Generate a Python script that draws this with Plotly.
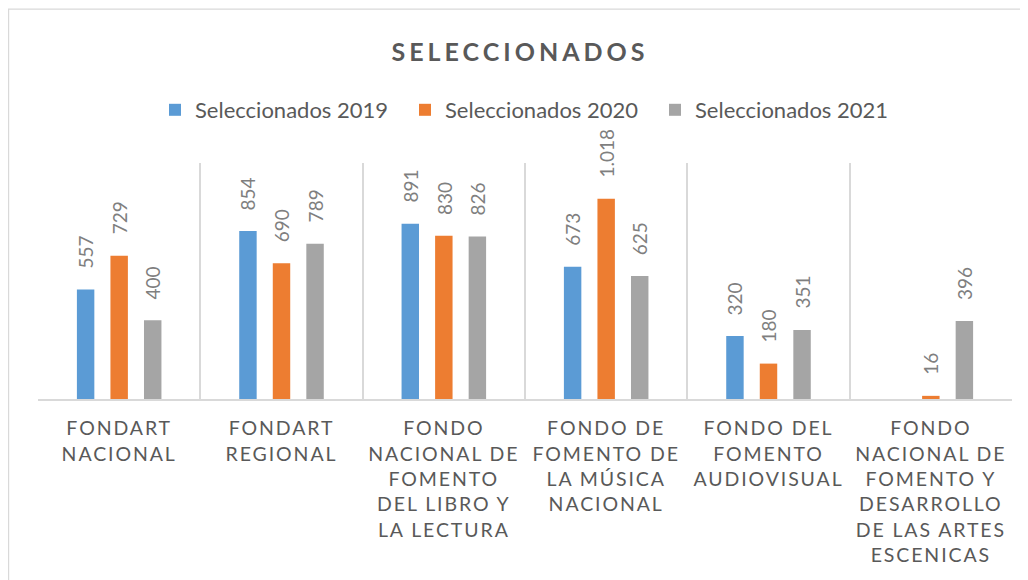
import plotly.graph_objects as go

categories = [
    "FONDART<br>NACIONAL",
    "FONDART<br>REGIONAL",
    "FONDO<br>NACIONAL DE<br>FOMENTO<br>DEL LIBRO Y<br>LA LECTURA",
    "FONDO DE<br>FOMENTO DE<br>LA MÚSICA<br>NACIONAL",
    "FONDO DEL<br>FOMENTO<br>AUDIOVISUAL",
    "FONDO<br>NACIONAL DE<br>FOMENTO Y<br>DESARROLLO<br>DE LAS ARTES<br>ESCENICAS",
]
series_names = ["Seleccionados 2019", "Seleccionados 2020", "Seleccionados 2021"]
sel_2019 = [557, 854, 891, 673, 320, None]
sel_2020 = [729, 690, 830, 1018, 180, 16]
sel_2021 = [400, 789, 826, 625, 351, 396]
colors = ["#5B9BD5", "#ED7D31", "#A5A5A5"]

# page body has an 8px default margin: figure drawn at (8, 8)
OFF = 8
W, H = 1028 - OFF, 580 - OFF
ML, MR, MT, MB = 38 - OFF, 16, 163 - OFF, 181
BARGAP, BARGROUPGAP = 0.38, 0.48
FONT = "Lato"
TXT = "#595959"

def fmt(v):
    return f"{v:,}".replace(",", ".")

def spaced(s, px):
    return "<br>".join(f'<span style="letter-spacing:{px}px">{line}</span>' for line in s.split("<br>"))

cat_labels = [spaced(c, 1.9) for c in categories]
fig = go.Figure()
all_series = [sel_2019, sel_2020, sel_2021]
for name, vals, col in zip(series_names, all_series, colors):
    fig.add_trace(go.Bar(x=cat_labels, y=vals, name=name, marker=dict(color=col, line=dict(width=0))))

plot_w = W - ML - MR
ph = H - MT - MB
cat_w = plot_w / len(categories)
slot = cat_w * (1 - BARGAP) / len(all_series)
for si, vals in enumerate(all_series):
    shift = (si - (len(all_series) - 1) / 2) * slot
    for ci, v in enumerate(vals):
        if v is None:
            continue
        fig.add_annotation(x=cat_labels[ci], y=v, text=fmt(v), showarrow=False, textangle=-90,
                           xanchor="center", yanchor="bottom", xshift=shift, yshift=19,
                           font=dict(family=FONT, size=19, color="#7F7F7F"))

fig.add_shape(type="rect", xref="paper", yref="paper",
              x0=(0.6 - ML) / plot_w, x1=(W + 20 - ML) / plot_w,
              y0=-(MB + 20) / ph, y1=(H - MB - 1.2) / ph,
              line=dict(color="#D9D9D9", width=1.2), fillcolor="rgba(0,0,0,0)", layer="below")

fig.update_layout(
    width=W, height=H,
    margin=dict(l=ML, r=MR, t=MT, b=MB, autoexpand=False),
    paper_bgcolor="white", plot_bgcolor="white",
    barmode="group", bargap=BARGAP, bargroupgap=BARGROUPGAP,
    title=dict(text=f'<b>{spaced("SELECCIONADOS", 4)}</b>', x=(520 - OFF) / W, xanchor="center",
               y=1 - (52 - OFF) / H, yanchor="middle", yref="container",
               font=dict(family=FONT, size=25, color=TXT)),
    legend=dict(orientation="h", x=(530 - OFF - ML) / plot_w, xanchor="center",
                y=(H - MB - (110 - OFF)) / ph, yanchor="middle",
                font=dict(family=FONT, size=22, color=TXT), entrywidth=205, entrywidthmode="pixels",
                itemwidth=30, bgcolor="rgba(0,0,0,0)"),
    showlegend=True,
    xaxis=dict(type="category", tickson="boundaries", tickangle=0, automargin=False,
               showgrid=True, gridcolor="#D9D9D9", gridwidth=1.5,
               showline=True, linecolor="#D9D9D9", linewidth=1.5,
               ticks="", ticklabelstandoff=11,
               tickfont=dict(family=FONT, size=19.5, color=TXT), zeroline=False, fixedrange=True),
    yaxis=dict(range=[0, 1200], visible=False, showgrid=False, zeroline=False, automargin=False),
)

fig.write_html("out.html")
